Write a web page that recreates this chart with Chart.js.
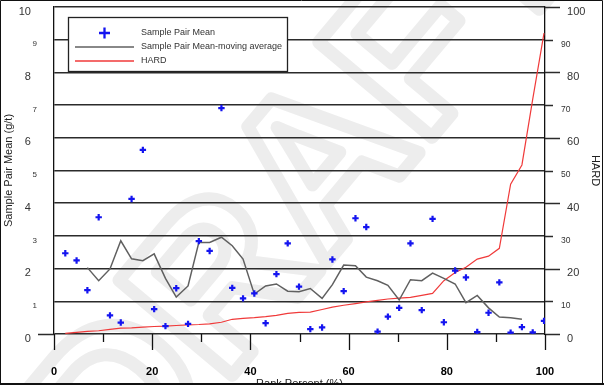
<!DOCTYPE html>
<html>
<head>
<meta charset="utf-8">
<title>Sample Pair Mean vs Rank Percent</title>
<script src="https://cdn.jsdelivr.net/npm/chart.js@4.4.1/dist/chart.umd.min.js"></script>
<style>
    html, body { margin: 0; padding: 0; background: #fff; }
    #chart { display: block; }
</style>
</head>
<body>
<canvas id="chart" width="604" height="389"></canvas>
<script>
// Rank percent of each sample pair (x)
const rankPct = [2.3, 4.6, 6.8, 9.1, 11.4, 13.6, 15.8, 18.1, 20.4, 22.7,
    24.9, 27.3, 29.5, 31.7, 34.1, 36.3, 38.5, 40.8, 43.1, 45.3,
    47.6, 49.9, 52.2, 54.6, 56.7, 59.0, 61.4, 63.6, 65.9, 68.0,
    70.3, 72.6, 74.9, 77.1, 79.4, 81.7, 83.9, 86.2, 88.5, 90.7,
    93.0, 95.3, 97.5, 99.8];

// Sample pair mean (g/t), left axis
const pairMean = [2.47, 2.25, 1.34, 3.57, 0.57, 0.35, 4.13, 5.63, 0.76, 0.24,
    1.40, 0.31, 2.84, 2.54, 6.91, 1.41, 1.09, 1.24, 0.33, 1.83,
    2.77, 1.45, 0.15, 0.20, 2.28, 1.31, 3.54, 3.27, 0.07, 0.53,
    0.80, 2.77, 0.73, 3.52, 0.36, 1.94, 1.73, 0.06, 0.65, 1.58,
    0.04, 0.21, 0.05, 0.40];

// Moving average of the pair mean, left axis (no value at the ends)
const movingAvg = [null, null, 2.03, 1.63, 1.99, 2.85, 2.30, 2.24, 2.45, 1.70,
    1.13, 1.47, 2.80, 2.80, 2.96, 2.70, 2.29, 1.22, 1.47, 1.53,
    1.31, 1.29, 1.39, 1.09, 1.51, 2.11, 2.09, 1.74, 1.63, 1.49,
    1.04, 1.66, 1.63, 1.86, 1.70, 1.53, 0.96, 1.18, 0.80, 0.52,
    0.50, 0.45, null, null];

// HARD, right axis
const hard = [0.2, 0.5, 0.8, 1.0, 1.4, 1.8, 1.9, 2.1, 2.3, 2.4,
    2.6, 2.8, 2.9, 3.1, 3.6, 4.5, 4.8, 5.0, 5.3, 5.7,
    6.3, 6.6, 6.7, 7.5, 8.2, 8.8, 9.3, 9.8, 10.3, 10.7,
    11.0, 11.2, 11.8, 12.4, 16.3, 18.8, 20.4, 22.9, 23.8, 26.2,
    45.8, 51.7, 71.8, 92.0];

const seriesLabels = ['Sample Pair Mean', 'Sample Pair Mean-moving average', 'HARD'];
const seriesColors = ['#1414f0', '#606060', '#f03a3a'];
const axisTitles = { x: 'Rank Percent (%)', y: 'Sample Pair Mean (g/t)', y1: 'HARD' };
const watermark = 'DRAFT';

const toPoints = values => rankPct.map((x, i) => ({ x: x, y: values[i] }));

const GRID = '#2b2b2b';
const FONT = "'Liberation Sans', Arial, sans-serif";

Chart.defaults.font.family = FONT;

// Faint outlined watermark behind everything
const draftMark = {
    id: 'draftMark',
    beforeDraw(chart) {
        const ctx = chart.ctx;
        ctx.save();
        ctx.fillStyle = '#fff';
        ctx.fillRect(0, 0, chart.width, chart.height);
        ctx.translate(312, 188);
        ctx.rotate(-50 * Math.PI / 180);
        ctx.font = 'bold 215px ' + FONT;
        ctx.textAlign = 'center';
        ctx.textBaseline = 'middle';
        ctx.lineJoin = 'round';
        ctx.lineWidth = 13;
        ctx.strokeStyle = '#ededed';
        ctx.strokeText(watermark, 0, 0);
        ctx.restore();
    }
};

// Tick marks of different lengths, grid extensions, legend box and frame
const decorations = {
    id: 'decorations',
    afterDraw(chart) {
        const ctx = chart.ctx;
        const area = chart.chartArea;
        const xs = chart.scales.x;
        const y1 = chart.scales.y1;
        ctx.save();

        // grid extensions to the right of the plot, longer on the majors
        ctx.strokeStyle = GRID;
        ctx.lineWidth = 1.5;
        y1.ticks.forEach(t => {
            const py = Math.round(y1.getPixelForValue(t.value)) + 0.5;
            const len = t.value % 20 === 0 ? 15 : 8;
            ctx.beginPath();
            ctx.moveTo(area.right, py);
            ctx.lineTo(area.right + len, py);
            if (t.value === 0) {
                ctx.moveTo(area.left - 16, py);
                ctx.lineTo(area.left, py);
            }
            ctx.stroke();
        });

        // x tick marks below the plot
        ctx.strokeStyle = '#111';
        ctx.lineWidth = 1.3;
        xs.ticks.forEach(t => {
            const px = Math.round(xs.getPixelForValue(t.value)) + 0.5;
            const len = t.value % 20 === 0 ? 16 : 8;
            ctx.beginPath();
            ctx.moveTo(px, area.bottom);
            ctx.lineTo(px, area.bottom + len);
            ctx.stroke();
        });

        // legend box
        const lx = 68.5, ly = 17.5, lw = 219, lh = 54;
        ctx.fillStyle = '#fff';
        ctx.fillRect(lx, ly, lw, lh);
        ctx.strokeStyle = '#222';
        ctx.lineWidth = 1.3;
        ctx.strokeRect(lx, ly, lw, lh);

        const rows = [33, 47, 61];
        // cross marker
        ctx.strokeStyle = seriesColors[0];
        ctx.lineWidth = 2.3;
        ctx.beginPath();
        ctx.moveTo(99, rows[0]); ctx.lineTo(110, rows[0]);
        ctx.moveTo(104.5, rows[0] - 5.5); ctx.lineTo(104.5, rows[0] + 5.5);
        ctx.stroke();
        // line samples
        ctx.lineWidth = 1.5;
        ctx.strokeStyle = seriesColors[1];
        ctx.beginPath();
        ctx.moveTo(75, rows[1]);
        ctx.lineTo(134, rows[1]);
        ctx.stroke();
        ctx.lineWidth = 1.3;
        ctx.strokeStyle = seriesColors[2];
        ctx.beginPath();
        ctx.moveTo(75, rows[2]);
        ctx.lineTo(134, rows[2]);
        ctx.stroke();

        ctx.fillStyle = '#333';
        ctx.font = '9px ' + FONT;
        ctx.textAlign = 'left';
        ctx.textBaseline = 'middle';
        seriesLabels.forEach((label, i) => ctx.fillText(label, 141, rows[i]));

        // frame of the picture; the bottom edge cuts the x title
        ctx.fillStyle = '#fff';
        ctx.fillRect(0, 385, chart.width, chart.height - 385);
        ctx.strokeStyle = '#111';
        ctx.lineWidth = 1;
        ctx.beginPath();
        ctx.moveTo(0.5, 385); ctx.lineTo(0.5, 0.5); ctx.lineTo(602.5, 0.5); ctx.lineTo(602.5, 385);
        ctx.stroke();
        ctx.lineWidth = 2;
        ctx.beginPath();
        ctx.moveTo(0, 384); ctx.lineTo(chart.width, 384);
        ctx.stroke();

        ctx.restore();
    }
};

const bigOrSmall = (ctx, big, small) => {
    const v = ctx.tick ? ctx.tick.value : 0;
    return v % (ctx.scale.id === 'y' ? 2 : 20) === 0 ? big : small;
};

// keep the plot top at the layout padding, not pushed down by the top labels
const noLabelPadding = scale => {
    scale.paddingTop = 0;
    scale.paddingBottom = 0;
};

new Chart(document.getElementById('chart'), {
    data: {
        datasets: [
            {
                type: 'scatter',
                label: seriesLabels[0],
                data: toPoints(pairMean),
                yAxisID: 'y',
                pointStyle: 'cross',
                pointRadius: 3.2,
                borderColor: seriesColors[0],
                borderWidth: 2.2,
                backgroundColor: seriesColors[0]
            },
            {
                type: 'line',
                label: seriesLabels[1],
                data: toPoints(movingAvg),
                yAxisID: 'y',
                borderColor: seriesColors[1],
                borderWidth: 1.5,
                pointRadius: 0,
                tension: 0,
                spanGaps: false
            },
            {
                type: 'line',
                label: seriesLabels[2],
                data: toPoints(hard),
                yAxisID: 'y1',
                borderColor: seriesColors[2],
                borderWidth: 1.2,
                pointRadius: 0,
                tension: 0
            }
        ]
    },
    options: {
        responsive: false,
        animation: false,
        devicePixelRatio: 1,
        layout: { padding: { top: 7, left: 0, right: 0, bottom: 0 } },
        plugins: {
            legend: { display: false },
            tooltip: { enabled: false }
        },
        scales: {
            x: {
                type: 'linear',
                position: 'bottom',
                min: 0,
                max: 100,
                grid: { display: false, drawTicks: false, tickLength: 0 },
                border: { display: false },
                ticks: {
                    stepSize: 10,
                    padding: 31,
                    maxRotation: 0,
                    autoSkip: false,
                    color: '#000',
                    font: { size: 11, weight: 'bold' },
                    callback: v => (v % 20 === 0 ? String(v) : '')
                },
                title: {
                    display: true,
                    text: axisTitles.x,
                    color: '#222',
                    font: { size: 11, lineHeight: 1 },
                    padding: { top: 0, bottom: 0 }
                },
                afterFit: scale => { scale.height = 55; }
            },
            y: {
                type: 'linear',
                position: 'left',
                min: 0,
                max: 10,
                grid: { color: GRID, lineWidth: 1.5, drawTicks: false, tickLength: 0 },
                border: { display: true, color: '#111', width: 1.3 },
                ticks: {
                    stepSize: 1,
                    padding: 17,
                    labelOffset: 4.5,
                    color: '#333',
                    font: ctx => ({ size: bigOrSmall(ctx, 11, 8) }),
                    callback: v => (v % 2 === 0 ? v + '  ' : String(v))
                },
                title: {
                    display: true,
                    text: axisTitles.y,
                    color: '#222',
                    font: { size: 11 },
                    padding: { top: 2, bottom: 0 }
                },
                afterFit: scale => { scale.width = 54; noLabelPadding(scale); }
            },
            y1: {
                type: 'linear',
                position: 'right',
                min: 0,
                max: 100,
                grid: { display: false, drawTicks: false, tickLength: 0 },
                border: { display: true, color: '#111', width: 1.3 },
                ticks: {
                    stepSize: 10,
                    padding: 16,
                    labelOffset: 4.5,
                    color: '#333',
                    font: ctx => ({ size: bigOrSmall(ctx, 11, 8.5) }),
                    callback: v => (v % 20 === 0 ? '  ' + v : String(v))
                },
                title: {
                    display: true,
                    text: axisTitles.y1,
                    color: '#222',
                    font: { size: 11 },
                    padding: { top: 2.4, bottom: 0 }
                },
                afterFit: scale => { scale.width = 59; noLabelPadding(scale); }
            }
        }
    },
    plugins: [draftMark, decorations]
});
</script>
</body>
</html>
